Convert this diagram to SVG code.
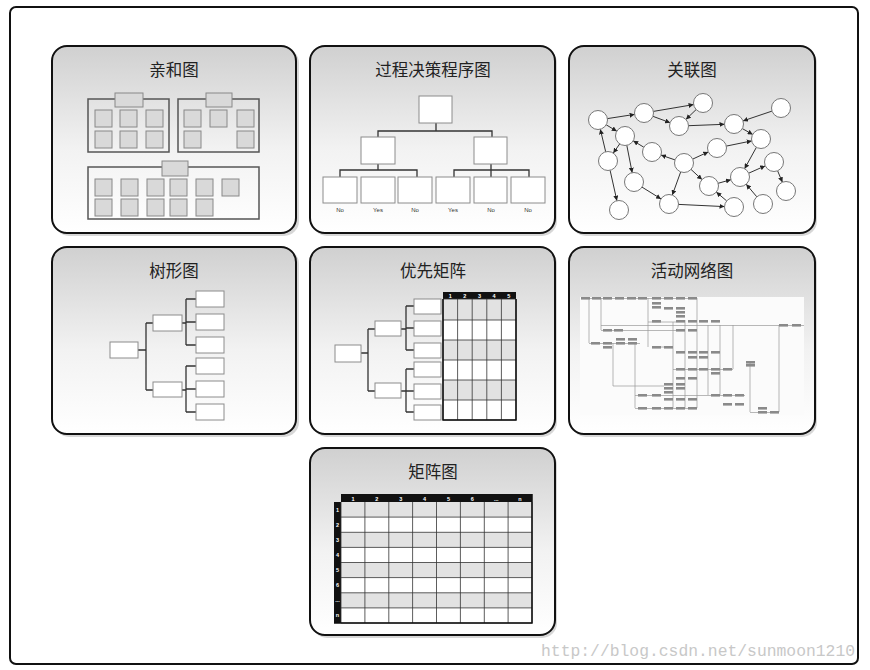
<svg xmlns="http://www.w3.org/2000/svg" xmlns:xlink="http://www.w3.org/1999/xlink" width="870" height="670" viewBox="0 0 870 670">
<defs>
<linearGradient id="pg" x1="0" y1="0" x2="0" y2="1">
<stop offset="0" stop-color="#d0d0d0"/>
<stop offset="0.55" stop-color="#f2f2f2"/>
<stop offset="1" stop-color="#ffffff"/>
</linearGradient>
<marker id="ah" viewBox="0 0 10 10" refX="10" refY="5" markerWidth="5" markerHeight="5" markerUnits="userSpaceOnUse" orient="auto">
<path d="M0,0 L10,5 L0,10 z" fill="#222"/>
</marker>
<rect id="tb" width="9" height="2.6" fill="#8a8a8a"/>
</defs>
<style>
.frame{fill:#fff;stroke:#111;stroke-width:2}
.panel{fill:url(#pg);stroke:#111;stroke-width:2}
.shadow{fill:#bdbdbd;opacity:0.6}
.title{font-family:"Noto Sans CJK SC","Noto Sans",sans-serif;font-size:16.5px;fill:#222;text-anchor:middle}
.grp{fill:none;stroke:#555;stroke-width:1.5}
.sq{fill:#d9d9d9;stroke:#888;stroke-width:1}
.box{fill:#fff;stroke:#8c8c8c;stroke-width:1}
.ln{fill:none;stroke:#333;stroke-width:1.3}
.lbl{font-family:"Liberation Sans",Arial,sans-serif;font-size:6px;fill:#333;text-anchor:middle}
.cir{fill:#fff;stroke:#777;stroke-width:1}
.arr{stroke:#333;stroke-width:1;fill:none;marker-end:url(#ah)}
.hdr{fill:#111}
.hnum{font-family:"Liberation Sans",Arial,sans-serif;font-size:5.5px;font-weight:bold;fill:#fff;text-anchor:middle}
.gr{fill:#e2e2e2}
.grid{stroke:#333;stroke-width:0.8;fill:none}
.nl{stroke:#9a9a9a;stroke-width:0.7;fill:none}
.wm{font-family:"Liberation Mono","DejaVu Sans Mono",monospace;font-size:17px;fill:#c8c8c8}
</style>

<rect class="frame" x="10" y="7" width="848" height="657" rx="6"/>

<!-- Panel 1: 亲和图 -->
<g id="p-affinity">
<rect class="shadow" x="54" y="48" width="245" height="188" rx="15"/>
<rect class="panel" x="52" y="46" width="244" height="187" rx="15"/>
<text class="title" x="174" y="76">亲和图</text>
<rect class="grp" x="88" y="99" width="81" height="53"/>
<rect class="sq" x="115" y="93" width="28" height="14"/>
<rect class="sq" x="95" y="110" width="17" height="17"/>
<rect class="sq" x="120" y="110" width="17" height="17"/>
<rect class="sq" x="146" y="110" width="17" height="17"/>
<rect class="sq" x="95" y="131" width="17" height="17"/>
<rect class="sq" x="120" y="131" width="17" height="17"/>
<rect class="sq" x="146" y="131" width="17" height="17"/>
<rect class="grp" x="178" y="99" width="81" height="53"/>
<rect class="sq" x="206" y="93" width="26" height="14"/>
<rect class="sq" x="184" y="110" width="17" height="17"/>
<rect class="sq" x="210" y="110" width="17" height="17"/>
<rect class="sq" x="237" y="110" width="17" height="17"/>
<rect class="sq" x="184" y="131" width="17" height="17"/>
<rect class="sq" x="237" y="131" width="17" height="17"/>
<rect class="grp" x="88" y="167" width="171" height="52"/>
<rect class="sq" x="162" y="161" width="26" height="15"/>
<rect class="sq" x="95" y="179" width="17" height="17"/>
<rect class="sq" x="121" y="179" width="17" height="17"/>
<rect class="sq" x="147" y="179" width="17" height="17"/>
<rect class="sq" x="170" y="179" width="17" height="17"/>
<rect class="sq" x="196" y="179" width="17" height="17"/>
<rect class="sq" x="222" y="179" width="17" height="17"/>
<rect class="sq" x="95" y="199" width="17" height="17"/>
<rect class="sq" x="121" y="199" width="17" height="17"/>
<rect class="sq" x="147" y="199" width="17" height="17"/>
<rect class="sq" x="170" y="199" width="17" height="17"/>
<rect class="sq" x="196" y="199" width="17" height="17"/>
</g>

<!-- Panel 2: 过程决策程序图 -->
<g id="p-pdpc">
<rect class="shadow" x="312" y="48" width="245" height="188" rx="15"/>
<rect class="panel" x="310" y="46" width="245" height="187" rx="15"/>
<text class="title" x="433" y="76">过程决策程序图</text>
<path class="ln" d="M436,123 V131 M378,137 V131 H492 V137 M378,164 V170 M340,177 V170 H417 V177 M491,164 V170 M454,177 V170 H529 V177 M491,170 V177"/>
<rect class="box" x="419" y="96" width="33" height="27"/>
<rect class="box" x="361" y="137" width="34" height="27"/>
<rect class="box" x="474" y="137" width="33" height="27"/>
<rect class="box" x="323" y="177" width="34" height="26"/>
<rect class="box" x="361" y="177" width="34" height="26"/>
<rect class="box" x="398" y="177" width="34" height="26"/>
<rect class="box" x="436" y="177" width="34" height="26"/>
<rect class="box" x="474" y="177" width="33" height="26"/>
<rect class="box" x="511" y="177" width="34" height="26"/>
<text class="lbl" x="340" y="212">No</text>
<text class="lbl" x="378" y="212">Yes</text>
<text class="lbl" x="415" y="212">No</text>
<text class="lbl" x="453" y="212">Yes</text>
<text class="lbl" x="491" y="212">No</text>
<text class="lbl" x="528" y="212">No</text>
</g>

<!-- Panel 3: 关联图 -->
<g id="p-relation">
<rect class="shadow" x="571" y="48" width="246" height="188" rx="15"/>
<rect class="panel" x="569" y="46" width="246" height="187" rx="15"/>
<text class="title" x="692" y="76">关联图</text>
<g id="rel-arrows">
<line class="arr" x1="607.4" y1="118.6" x2="634.6" y2="114.4"/>
<line class="arr" x1="653.4" y1="111.4" x2="693.6" y2="104.6"/>
<line class="arr" x1="696.1" y1="109.6" x2="685.9" y2="119.4"/>
<line class="arr" x1="652.9" y1="116.3" x2="670.1" y2="122.7"/>
<line class="arr" x1="688.5" y1="125.7" x2="724.5" y2="124.3"/>
<line class="arr" x1="772" y1="111.1" x2="743" y2="120.9"/>
<line class="arr" x1="606.2" y1="124.8" x2="616.8" y2="131.2"/>
<line class="arr" x1="619.7" y1="143.9" x2="613.3" y2="153.1"/>
<line class="arr" x1="605.7" y1="151.8" x2="600.3" y2="129.2"/>
<line class="arr" x1="742.3" y1="128.6" x2="752.7" y2="134.4"/>
<line class="arr" x1="726.3" y1="146.1" x2="751.7" y2="140.9"/>
<line class="arr" x1="692.7" y1="159.1" x2="708.3" y2="151.9"/>
<line class="arr" x1="675" y1="159.9" x2="661" y2="155.1"/>
<line class="arr" x1="643.8" y1="147.2" x2="633.2" y2="140.8"/>
<line class="arr" x1="626.8" y1="145.3" x2="632.2" y2="172.7"/>
<line class="arr" x1="610.1" y1="170.3" x2="616.9" y2="200.7"/>
<line class="arr" x1="642" y1="187.1" x2="661" y2="198.9"/>
<line class="arr" x1="680.7" y1="171.9" x2="672.3" y2="195.1"/>
<line class="arr" x1="691" y1="169.4" x2="702" y2="179.6"/>
<line class="arr" x1="678.5" y1="204.4" x2="724.5" y2="206.6"/>
<line class="arr" x1="726.7" y1="200.9" x2="716.3" y2="192.1"/>
<line class="arr" x1="718.1" y1="183.3" x2="730.9" y2="179.7"/>
<line class="arr" x1="756.4" y1="147.3" x2="744.6" y2="168.7"/>
<line class="arr" x1="748.7" y1="173.2" x2="765.3" y2="165.8"/>
<line class="arr" x1="777.6" y1="170.8" x2="782.4" y2="182.2"/>
<line class="arr" x1="756.8" y1="196.8" x2="746.2" y2="184.2"/>
</g>
<circle class="cir" cx="598" cy="120" r="9.5"/>
<circle class="cir" cx="644" cy="113" r="9.5"/>
<circle class="cir" cx="703" cy="103" r="9.5"/>
<circle class="cir" cx="679" cy="126" r="9.5"/>
<circle class="cir" cx="781" cy="108" r="9.5"/>
<circle class="cir" cx="734" cy="124" r="9.5"/>
<circle class="cir" cx="625" cy="136" r="9.5"/>
<circle class="cir" cx="761" cy="139" r="9.5"/>
<circle class="cir" cx="608" cy="161" r="9.5"/>
<circle class="cir" cx="652" cy="152" r="9.5"/>
<circle class="cir" cx="717" cy="148" r="9.5"/>
<circle class="cir" cx="684" cy="163" r="9.5"/>
<circle class="cir" cx="774" cy="162" r="9.5"/>
<circle class="cir" cx="634" cy="182" r="9.5"/>
<circle class="cir" cx="709" cy="186" r="9.5"/>
<circle class="cir" cx="740" cy="177" r="9.5"/>
<circle class="cir" cx="786" cy="191" r="9.5"/>
<circle class="cir" cx="619" cy="210" r="9.5"/>
<circle class="cir" cx="669" cy="204" r="9.5"/>
<circle class="cir" cx="734" cy="207" r="9.5"/>
<circle class="cir" cx="763" cy="204" r="9.5"/>
</g>

<!-- Panel 4: 树形图 -->
<g id="p-tree">
<rect class="shadow" x="54" y="249" width="245" height="188" rx="15"/>
<rect class="panel" x="52" y="247" width="244" height="187" rx="15"/>
<text class="title" x="174" y="277">树形图</text>
<path class="ln" d="M138,350 H146 M146,323 V390 M146,323 H153 M146,390 H153 M182,323 H186 M182,390 H186 M186,299 V345 M186,366 V412 M186,299 H196 M186,322 H196 M186,345 H196 M186,366 H196 M186,389 H196 M186,412 H196"/>
<rect class="box" x="110" y="342" width="28" height="16"/>
<rect class="box" x="153" y="315" width="29" height="16"/>
<rect class="box" x="153" y="382" width="29" height="15"/>
<rect class="box" x="196" y="291" width="28" height="16"/>
<rect class="box" x="196" y="314" width="28" height="16"/>
<rect class="box" x="196" y="337" width="28" height="16"/>
<rect class="box" x="196" y="358" width="28" height="16"/>
<rect class="box" x="196" y="381" width="28" height="16"/>
<rect class="box" x="196" y="404" width="28" height="16"/>
</g>

<!-- Panel 5: 优先矩阵 -->
<g id="p-priority">
<rect class="shadow" x="312" y="249" width="245" height="188" rx="15"/>
<rect class="panel" x="310" y="247" width="245" height="187" rx="15"/>
<text class="title" x="433" y="277">优先矩阵</text>
<path class="ln" d="M361,353 H368 M368,329 V391 M368,329 H375 M368,391 H375 M401,329 H406 M401,391 H406 M406,306 V350 M406,369 V412 M406,306 H414 M406,328 H414 M406,350 H414 M406,369 H414 M406,391 H414 M406,412 H414"/>
<rect class="box" x="335" y="345" width="26" height="17"/>
<rect class="box" x="375" y="321" width="26" height="15"/>
<rect class="box" x="375" y="383" width="26" height="15"/>
<rect class="box" x="414" y="299" width="27" height="15"/>
<rect class="box" x="414" y="321" width="27" height="15"/>
<rect class="box" x="414" y="343" width="27" height="15"/>
<rect class="box" x="414" y="362" width="27" height="15"/>
<rect class="box" x="414" y="384" width="27" height="15"/>
<rect class="box" x="414" y="405" width="27" height="15"/>
<rect class="hdr" x="443" y="292" width="73" height="7"/>
<rect x="443" y="299" width="73" height="121" fill="#fff"/>
<rect class="gr" x="443" y="299" width="73" height="21"/>
<rect class="gr" x="443" y="340" width="73" height="20"/>
<rect class="gr" x="443" y="380" width="73" height="20"/>
<path class="grid" d="M443,299 V420 M457.6,299 V420 M472.2,299 V420 M486.8,299 V420 M501.4,299 V420 M516,299 V420 M443,299 H516 M443,320 H516 M443,340 H516 M443,360 H516 M443,380 H516 M443,400 H516 M443,420 H516"/>
<path d="M443,299 V420 H516 V299" fill="none" stroke="#111" stroke-width="1.5"/>
<text class="hnum" x="450.3" y="298">1</text>
<text class="hnum" x="464.9" y="298">2</text>
<text class="hnum" x="479.5" y="298">3</text>
<text class="hnum" x="494.1" y="298">4</text>
<text class="hnum" x="508.7" y="298">5</text>
</g>

<!-- Panel 6: 活动网络图 -->
<g id="p-network">
<rect class="shadow" x="571" y="249" width="246" height="188" rx="15"/>
<rect class="panel" x="569" y="247" width="246" height="187" rx="15"/>
<text class="title" x="692" y="277">活动网络图</text>
<rect x="580" y="297" width="224" height="118" fill="#fbfbfb"/>
<path class="nl" d="M581,298.5 H697 M589,298 V343 M601,298 V330 M601,330.5 H676 M601,325.5 H804 M648,298 V347 M648,322 H676 M589,343.5 H640 M613,343 V386 M613,386 H664 M635,343 V408 M635,408.5 H697 M673,322 V408 M685,320 V408 M697,298 V408 M708,325 V395 M720,325 V395 M733,325 V369 M673,369.5 H733 M635,395.5 H745 M750,362 V412 M750,412.5 H779 M779,325 V412 M660,347 H673"/>
<use xlink:href="#tb" x="581" y="297"/><use xlink:href="#tb" x="592" y="297"/><use xlink:href="#tb" x="603" y="297"/><use xlink:href="#tb" x="615" y="297"/><use xlink:href="#tb" x="627" y="297"/><use xlink:href="#tb" x="638" y="297"/><use xlink:href="#tb" x="652" y="297"/><use xlink:href="#tb" x="664" y="297"/><use xlink:href="#tb" x="676" y="297"/><use xlink:href="#tb" x="688" y="297"/>
<use xlink:href="#tb" x="652" y="302"/><use xlink:href="#tb" x="652" y="306"/>
<use xlink:href="#tb" x="664" y="307"/><use xlink:href="#tb" x="676" y="307"/><use xlink:href="#tb" x="676" y="311"/><use xlink:href="#tb" x="676" y="315"/>
<use xlink:href="#tb" x="652" y="320"/><use xlink:href="#tb" x="676" y="320"/><use xlink:href="#tb" x="688" y="320"/><use xlink:href="#tb" x="699" y="320"/><use xlink:href="#tb" x="711" y="320"/>
<use xlink:href="#tb" x="779" y="324"/><use xlink:href="#tb" x="792" y="324"/>
<use xlink:href="#tb" x="603" y="329"/><use xlink:href="#tb" x="614" y="329"/><use xlink:href="#tb" x="676" y="329"/><use xlink:href="#tb" x="688" y="329"/>
<use xlink:href="#tb" x="616" y="338"/><use xlink:href="#tb" x="628" y="338"/>
<use xlink:href="#tb" x="591" y="342"/><use xlink:href="#tb" x="603" y="342"/><use xlink:href="#tb" x="616" y="342"/><use xlink:href="#tb" x="628" y="342"/>
<use xlink:href="#tb" x="603" y="346"/><use xlink:href="#tb" x="652" y="346"/><use xlink:href="#tb" x="664" y="346"/>
<use xlink:href="#tb" x="676" y="351"/><use xlink:href="#tb" x="688" y="351"/><use xlink:href="#tb" x="699" y="351"/><use xlink:href="#tb" x="711" y="351"/>
<use xlink:href="#tb" x="688" y="356"/><use xlink:href="#tb" x="699" y="356"/>
<use xlink:href="#tb" x="746" y="361"/><use xlink:href="#tb" x="746" y="364"/>
<use xlink:href="#tb" x="676" y="368"/><use xlink:href="#tb" x="688" y="368"/><use xlink:href="#tb" x="699" y="368"/><use xlink:href="#tb" x="711" y="368"/><use xlink:href="#tb" x="723" y="368"/>
<use xlink:href="#tb" x="711" y="372"/>
<use xlink:href="#tb" x="676" y="377"/><use xlink:href="#tb" x="688" y="377"/>
<use xlink:href="#tb" x="664" y="383"/><use xlink:href="#tb" x="676" y="383"/><use xlink:href="#tb" x="664" y="387"/><use xlink:href="#tb" x="676" y="387"/><use xlink:href="#tb" x="664" y="391"/>
<use xlink:href="#tb" x="638" y="394"/><use xlink:href="#tb" x="652" y="394"/><use xlink:href="#tb" x="711" y="394"/><use xlink:href="#tb" x="723" y="394"/><use xlink:href="#tb" x="735" y="394"/>
<use xlink:href="#tb" x="664" y="398"/><use xlink:href="#tb" x="676" y="398"/><use xlink:href="#tb" x="688" y="398"/>
<use xlink:href="#tb" x="723" y="403"/><use xlink:href="#tb" x="735" y="403"/>
<use xlink:href="#tb" x="638" y="407"/><use xlink:href="#tb" x="652" y="407"/><use xlink:href="#tb" x="664" y="407"/><use xlink:href="#tb" x="676" y="407"/><use xlink:href="#tb" x="688" y="407"/><use xlink:href="#tb" x="758" y="407"/>
<use xlink:href="#tb" x="758" y="411"/><use xlink:href="#tb" x="770" y="411"/>
</g>

<!-- Panel 7: 矩阵图 -->
<g id="p-matrix">
<rect class="shadow" x="312" y="450" width="245" height="188" rx="15"/>
<rect class="panel" x="310" y="448" width="245" height="187" rx="15"/>
<text class="title" x="433" y="478">矩阵图</text>
<rect class="hdr" x="341" y="494" width="191" height="8"/>
<rect class="hdr" x="334" y="502" width="7" height="121"/>
<rect x="341" y="502" width="191" height="121" fill="#fff"/>
<rect class="gr" x="341" y="502" width="191" height="15.1"/>
<rect class="gr" x="341" y="532.3" width="191" height="15.1"/>
<rect class="gr" x="341" y="562.5" width="191" height="15.1"/>
<rect class="gr" x="341" y="592.8" width="191" height="15.1"/>
<path class="grid" d="M341,502 V623 M364.9,502 V623 M388.8,502 V623 M412.6,502 V623 M436.5,502 V623 M460.4,502 V623 M484.3,502 V623 M508.1,502 V623 M532,502 V623 M341,517.1 H532 M341,532.3 H532 M341,547.4 H532 M341,562.5 H532 M341,577.6 H532 M341,592.8 H532 M341,607.9 H532 M341,623 H532"/>
<path d="M532,494 V623 H334" fill="none" stroke="#111" stroke-width="1.5"/>
<text class="hnum" x="353" y="500.5">1</text>
<text class="hnum" x="376.8" y="500.5">2</text>
<text class="hnum" x="400.7" y="500.5">3</text>
<text class="hnum" x="424.6" y="500.5">4</text>
<text class="hnum" x="448.5" y="500.5">5</text>
<text class="hnum" x="472.3" y="500.5">6</text>
<text class="hnum" x="496.2" y="500.5">...</text>
<text class="hnum" x="520" y="500.5">n</text>
<text class="hnum" x="337.5" y="511.5">1</text>
<text class="hnum" x="337.5" y="526.6">2</text>
<text class="hnum" x="337.5" y="541.8">3</text>
<text class="hnum" x="337.5" y="556.9">4</text>
<text class="hnum" x="337.5" y="572">5</text>
<text class="hnum" x="337.5" y="587.1">6</text>
<text class="hnum" x="337.5" y="602.3">...</text>
<text class="hnum" x="337.5" y="617.4">n</text>
</g>

<text class="wm" x="541" y="656" textLength="314" lengthAdjust="spacingAndGlyphs">http://blog.csdn.net/sunmoon1210</text>
</svg>
